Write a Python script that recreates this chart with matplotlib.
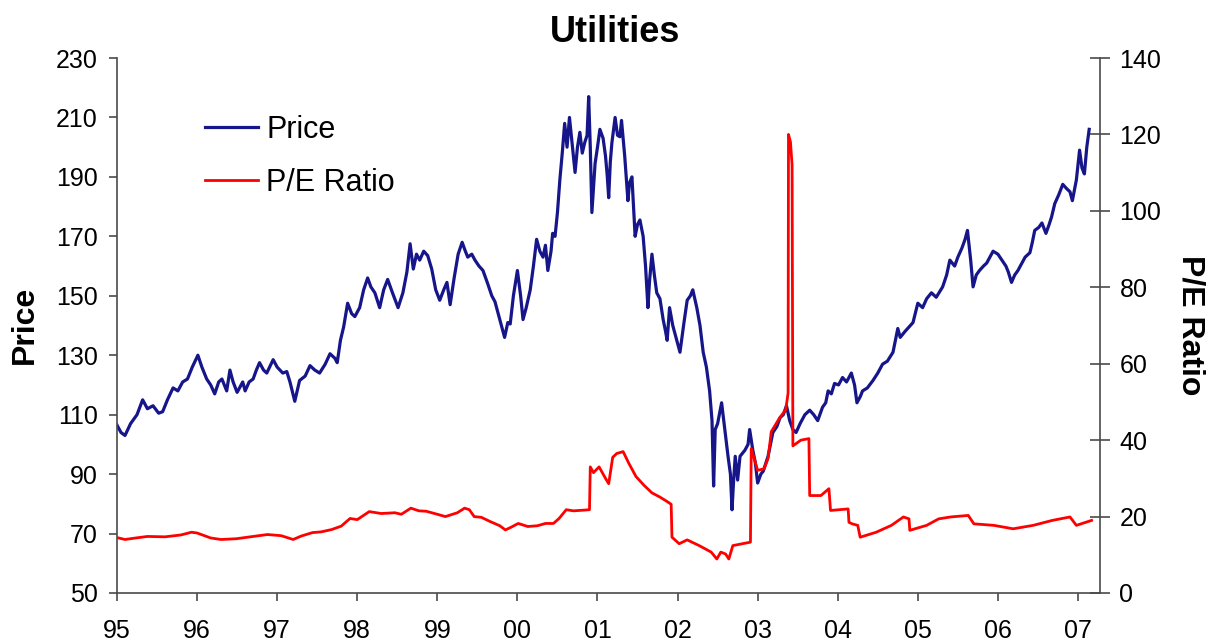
import matplotlib
matplotlib.use("Agg")
import matplotlib.pyplot as plt
import numpy as np

plt.rcParams['font.family'] = ['Liberation Sans', 'DejaVu Sans']

# Price (left axis) as (decimal year, value)
price_years = [
    1995.00, 1995.05, 1995.10, 1995.17, 1995.25, 1995.32, 1995.38, 1995.45, 1995.52, 1995.57,
    1995.63, 1995.70, 1995.76, 1995.82, 1995.88, 1995.94, 1996.01, 1996.06, 1996.12, 1996.17,
    1996.22, 1996.27, 1996.31, 1996.37, 1996.41, 1996.45, 1996.50, 1996.57, 1996.60, 1996.65,
    1996.70, 1996.74, 1996.78, 1996.83, 1996.87, 1996.95, 1997.00, 1997.07, 1997.12, 1997.16,
    1997.22, 1997.28, 1997.35, 1997.41, 1997.47, 1997.53, 1997.60, 1997.66, 1997.72, 1997.75,
    1997.79, 1997.83, 1997.88, 1997.93, 1997.97, 1998.03, 1998.08, 1998.13, 1998.17, 1998.22,
    1998.28, 1998.33, 1998.38, 1998.44, 1998.51, 1998.57, 1998.62, 1998.66, 1998.70, 1998.74,
    1998.78, 1998.83, 1998.88, 1998.93, 1998.98, 1999.03, 1999.08, 1999.12, 1999.16, 1999.21,
    1999.26, 1999.31, 1999.35, 1999.38, 1999.43, 1999.47, 1999.52, 1999.57, 1999.63, 1999.68,
    1999.72, 1999.78, 1999.84, 1999.88, 1999.91, 1999.95, 2000.00, 2000.04, 2000.07, 2000.11,
    2000.16, 2000.20, 2000.24, 2000.28, 2000.32, 2000.35, 2000.38, 2000.42, 2000.44, 2000.47,
    2000.50, 2000.53, 2000.56, 2000.59, 2000.62, 2000.65, 2000.68, 2000.72, 2000.75, 2000.78,
    2000.81, 2000.84, 2000.87, 2000.89, 2000.91, 2000.93, 2000.95, 2000.97, 2001.00, 2001.03,
    2001.07, 2001.10, 2001.12, 2001.14, 2001.16, 2001.18, 2001.22, 2001.25, 2001.28, 2001.30,
    2001.34, 2001.38, 2001.40, 2001.43, 2001.47, 2001.50, 2001.53, 2001.57, 2001.60, 2001.63,
    2001.65, 2001.68, 2001.71, 2001.74, 2001.78, 2001.82, 2001.85, 2001.87, 2001.90, 2001.94,
    2001.99, 2002.03, 2002.08, 2002.12, 2002.16, 2002.19, 2002.24, 2002.28, 2002.32, 2002.36,
    2002.40, 2002.43, 2002.45, 2002.47, 2002.50, 2002.55, 2002.59, 2002.63, 2002.66, 2002.68,
    2002.70, 2002.72, 2002.75, 2002.78, 2002.84, 2002.88, 2002.90, 2002.94, 2002.97, 2003.00,
    2003.04, 2003.07, 2003.13, 2003.16, 2003.19, 2003.24, 2003.28, 2003.32, 2003.36, 2003.40,
    2003.44, 2003.48, 2003.53, 2003.59, 2003.65, 2003.70, 2003.75, 2003.81, 2003.85, 2003.88,
    2003.92, 2003.96, 2004.01, 2004.06, 2004.11, 2004.17, 2004.21, 2004.24, 2004.28, 2004.31,
    2004.37, 2004.44, 2004.50, 2004.56, 2004.62, 2004.69, 2004.75, 2004.78, 2004.84, 2004.94,
    2005.00, 2005.06, 2005.11, 2005.17, 2005.23, 2005.31, 2005.36, 2005.40, 2005.46, 2005.50,
    2005.55, 2005.59, 2005.62, 2005.66, 2005.69, 2005.73, 2005.77, 2005.82, 2005.86, 2005.90,
    2005.94, 2006.00, 2006.05, 2006.10, 2006.13, 2006.17, 2006.21, 2006.25, 2006.30, 2006.34,
    2006.40, 2006.43, 2006.46, 2006.51, 2006.55, 2006.60, 2006.64, 2006.67, 2006.71, 2006.76,
    2006.81, 2006.86, 2006.90, 2006.93, 2006.98, 2007.02, 2007.05, 2007.08, 2007.11, 2007.14,
]
price_vals = [
    106.5, 104, 103, 107, 110, 115, 112, 113, 110.5, 111,
    115, 119, 118, 121, 122, 126, 130, 126, 122, 120,
    117, 121, 122, 118, 125, 121, 117.5, 121, 118, 121,
    122, 125, 127.5, 125, 124, 128.5, 126, 124, 124.5, 121,
    114.5, 121.5, 123, 126.5, 125, 124, 127, 130.5, 129, 127.5,
    135, 139.5, 147.5, 144, 143, 146, 152, 156, 153, 151,
    146, 152, 155.5, 151, 146, 151, 158, 167.5, 159, 164,
    162, 165, 163.5, 159, 152, 148.5, 152, 154.5, 147, 156,
    164, 168, 165, 163, 164, 162, 160, 158.5, 154, 150,
    148, 142, 136, 141, 140.5, 150, 158.5, 150, 142, 146,
    152, 160, 169, 165, 163, 167, 158.5, 165, 171, 170,
    178, 189, 198, 208, 200, 210, 202, 191.5, 200, 205,
    198, 201.5, 204, 217, 200, 178, 186, 194.5, 200, 206,
    203, 197, 191, 183, 195, 201.5, 210, 204, 203.5, 209,
    197, 182, 188, 190, 170, 174, 175.5, 170, 160, 146,
    155, 164, 157, 151, 149, 142, 138, 135, 146, 140,
    135, 131, 141, 148.5, 150, 152, 146, 140, 131, 126,
    118, 108, 86, 105, 107, 114, 105, 96, 90, 78,
    88, 96, 88, 96, 98, 100, 105, 98, 94, 87,
    90, 91, 96, 100, 104, 106, 109, 110, 113, 108,
    105, 104, 107, 110, 111.5, 110, 108, 112.5, 114, 118,
    117, 120.5, 120, 122.5, 121, 124, 120, 114, 116, 118,
    119, 121.5, 124, 127, 128, 131, 139, 136, 138, 141,
    147.5, 146, 149, 151, 149.5, 153, 157, 162, 160, 163,
    166, 169, 172, 162, 153, 157, 158.5, 160, 161, 163,
    165, 164, 162, 160, 158, 154.5, 157, 158.5, 161, 163,
    164.5, 168, 172, 173, 174.5, 171, 174, 176.5, 181, 184,
    187.5, 186, 185, 182, 189, 199, 193, 191, 200, 206,
]

# P/E ratio (right axis)
pe_years = [
    1995.00, 1995.10, 1995.20, 1995.38, 1995.60, 1995.80, 1995.93, 1996.00, 1996.17, 1996.30,
    1996.49, 1996.70, 1996.88, 1997.05, 1997.20, 1997.30, 1997.44, 1997.55, 1997.68, 1997.80,
    1997.91, 1998.00, 1998.15, 1998.30, 1998.47, 1998.55, 1998.67, 1998.77, 1998.86, 1999.00,
    1999.10, 1999.25, 1999.34, 1999.40, 1999.46, 1999.55, 1999.66, 1999.78, 1999.85, 1999.92,
    2000.01, 2000.13, 2000.25, 2000.35, 2000.45, 2000.52, 2000.61, 2000.70, 2000.84, 2000.90,
    2000.91, 2000.95, 2001.02, 2001.10, 2001.14, 2001.19, 2001.24, 2001.32, 2001.39, 2001.48,
    2001.58, 2001.68, 2001.78, 2001.88, 2001.92, 2001.93, 2002.02, 2002.12, 2002.27, 2002.42,
    2002.49, 2002.54, 2002.60, 2002.64, 2002.69, 2002.81, 2002.91, 2002.92, 2003.00, 2003.08,
    2003.13, 2003.17, 2003.27, 2003.35, 2003.38, 2003.385, 2003.41, 2003.43, 2003.44, 2003.54,
    2003.64, 2003.65, 2003.79, 2003.89, 2003.91, 2004.13, 2004.14, 2004.18, 2004.25, 2004.28,
    2004.48, 2004.67, 2004.82, 2004.89, 2004.90, 2005.11, 2005.26, 2005.41, 2005.63, 2005.70,
    2005.95, 2006.19, 2006.44, 2006.68, 2006.90, 2006.98, 2007.17,
]
pe_vals = [
    14.5, 14.0, 14.3, 14.8, 14.7, 15.2, 15.9, 15.7, 14.4, 14.0,
    14.2, 14.8, 15.3, 15.0, 14.0, 14.9, 15.8, 16.0, 16.6, 17.5,
    19.5, 19.2, 21.3, 20.8, 21.0, 20.6, 22.2, 21.5, 21.4, 20.6,
    20.0, 21.0, 22.2, 21.8, 20.0, 19.8, 18.7, 17.6, 16.5, 17.2,
    18.2, 17.4, 17.6, 18.2, 18.2, 19.5, 21.8, 21.5, 21.7, 21.8,
    33.0, 31.5, 33.0, 30.0, 28.6, 35.5, 36.5, 37.0, 34.0, 30.5,
    28.2, 26.2, 25.1, 23.8, 23.2, 14.6, 12.9, 13.9, 12.4, 10.7,
    8.9, 10.7, 10.2, 8.9, 12.4, 12.9, 13.3, 37.8, 32.1, 32.5,
    35.2, 42.2, 45.7, 47.9, 52.3, 120.0, 118.0, 112.0, 38.5, 40.0,
    40.4, 25.5, 25.5, 27.3, 21.6, 22.0, 18.5, 18.1, 17.7, 14.6,
    15.9, 17.7, 19.9, 19.4, 16.4, 17.7, 19.4, 19.9, 20.3, 18.1,
    17.7, 16.8, 17.7, 19.0, 19.9, 17.7, 19.0,
]

year_ticks = list(range(1995, 2008))
year_labels = ['95', '96', '97', '98', '99', '00', '01', '02', '03', '04', '05', '06', '07']

W, H = 1214, 641
fig = plt.figure(figsize=(W / 100, H / 100), dpi=100)
ax = fig.add_axes([117 / W, 1 - 593 / H, (1100 - 117) / W, (593 - 58) / H])
ax2 = ax.twinx()

l1, = ax.plot(price_years, price_vals, color='#16168a', lw=2.3, label='Price')
l2, = ax2.plot(pe_years, pe_vals, color='#ff0000', lw=2.0, label='P/E Ratio')

ax.set_xlim(1995.0, 2007.275)
ax.set_ylim(50, 230)
ax.set_yticks(np.arange(50, 231, 20))
ax2.set_ylim(0, 140)
ax2.set_yticks(np.arange(0, 141, 20))
ax.set_xticks(year_ticks)
ax.set_xticklabels(year_labels)

spine_col = '#4a4a4a'
for a in (ax, ax2):
    a.spines['top'].set_visible(False)
    for s in ('left', 'right', 'bottom'):
        a.spines[s].set_color(spine_col)
        a.spines[s].set_linewidth(1.2)
ax.spines['right'].set_visible(False)
ax2.spines['left'].set_visible(False)
ax2.spines['bottom'].set_visible(False)

ax.tick_params(axis='y', direction='out', length=6, width=1.2, color=spine_col,
               labelsize=18, pad=8)
ax.tick_params(axis='x', direction='out', length=6, width=1.2, color=spine_col,
               labelsize=18, pad=13)
ax2.tick_params(axis='y', direction='inout', length=14, width=1.2, color=spine_col,
                labelsize=18, pad=7)

fig.text(615 / W, 1 - 33 / H, 'Utilities', ha='center', va='center',
         fontsize=26, fontweight='bold')
fig.text(25 / W, 1 - 325 / H, 'Price', ha='center', va='center', rotation=90,
         fontsize=23, fontweight='bold')
fig.text(1190 / W, 1 - 325 / H, 'P/E Ratio', ha='center', va='center', rotation=270,
         fontsize=23, fontweight='bold')

ax.legend([l1, l2], ['Price', 'P/E Ratio'], loc='upper left',
          bbox_to_anchor=(0.0895, 0.894), frameon=False, fontsize=22,
          handlelength=1.75, handletextpad=0.25, labelspacing=0.75,
          borderpad=0, borderaxespad=0)

fig.savefig('out.png', dpi=100)
